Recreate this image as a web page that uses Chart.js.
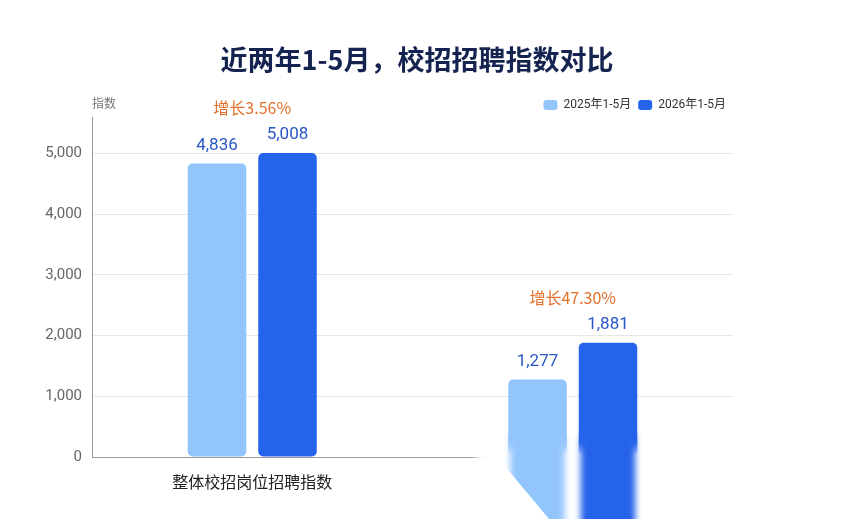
<!DOCTYPE html>
<html>
<head>
<meta charset="utf-8">
<script src="https://cdn.jsdelivr.net/npm/chart.js@4/dist/chart.umd.min.js"></script>
<style>
html,body{margin:0;padding:0;background:#fff;}
#wrap{width:862px;height:519px;position:relative;}
</style>
</head>
<body>
<div id="wrap"><canvas id="c"></canvas></div>
<script>
const categories = ['整体校招岗位招聘指数', ''];
const series2025 = [4836, 1277];
const series2026 = [5008, 1881];
const seriesNames = ['2025年1-5月', '2026年1-5月'];
const yTicks = [0, 1000, 2000, 3000, 4000, 5000];
const titleText = '近两年1-5月，校招招聘指数对比';
const yAxisTitle = '指数';

const CJK = '"Noto Sans CJK SC", "Noto Sans", sans-serif';
const NUM = 'Roboto, "Noto Sans CJK SC", sans-serif';

const labelPlugin = {
  id: 'labels',
  afterLayout(chart) {
    if (chart.legend) { chart.legend.top += 4; chart.legend.bottom += 4; }
  },
  afterDatasetsDraw(chart) {
    const ctx = chart.ctx;
    const m0 = chart.getDatasetMeta(0), m1 = chart.getDatasetMeta(1);
    ctx.save();
    ctx.textAlign = 'center';
    ctx.textBaseline = 'middle';
    [m0, m1].forEach((m, di) => {
      m.data.forEach((bar, i) => {
        const v = chart.data.datasets[di].data[i];
        ctx.font = '17px ' + NUM;
        ctx.fillStyle = '#2A56C6';
        ctx.fillText(v.toLocaleString('en-US'), bar.x, bar.y - 18);
      });
    });
    categories.forEach((c, i) => {
      const a = series2025[i], b = series2026[i];
      const g = ((b - a) / a * 100).toFixed(2);
      const top = Math.min(m0.data[i].y, m1.data[i].y);
      const cx = (m0.data[i].x + m1.data[i].x) / 2;
      ctx.font = '16px ' + CJK;
      ctx.fillStyle = '#E2702B';
      ctx.fillText('增长' + g + '%', cx, top - 45);
    });
    ctx.restore();
  },
  afterDraw(chart) {
    const ctx = chart.ctx;
    const ca = chart.chartArea;
    ctx.save();
    // title
    ctx.font = 'bold 27px ' + CJK;
    ctx.fillStyle = '#14234F';
    ctx.textAlign = 'center';
    ctx.textBaseline = 'middle';
    ctx.fillText(titleText, 417, 60);
    // y axis title
    ctx.font = '12px ' + CJK;
    ctx.fillStyle = '#777';
    ctx.textAlign = 'left';
    ctx.fillText(yAxisTitle, ca.left, ca.top - 14);
    // white fade over bottom-right
    const m0 = chart.getDatasetMeta(0), m1 = chart.getDatasetMeta(1);
    const b0 = m0.data[1], b1 = m1.data[1];
    const fadeLeft = b0.x - b0.width / 2 - 32;
    ctx.filter = 'blur(4px)';
    ctx.fillStyle = '#fff';
    ctx.fillRect(fadeLeft, ca.bottom - 8, 862 - fadeLeft + 20, 100);
    ctx.filter = 'blur(3px)';
    // smeared bar extensions
    ctx.fillStyle = chart.data.datasets[1].backgroundColor;
    ctx.fillRect(b1.x - b1.width / 2 + 2, ca.bottom - 22, b1.width - 4, 100);
    ctx.save();
    ctx.beginPath();
    const l = b0.x - b0.width / 2;
    ctx.moveTo(l - 4, ca.bottom - 24);
    ctx.lineTo(b0.x + b0.width / 2 + 10, ca.bottom - 24);
    ctx.lineTo(b0.x + b0.width / 2 + 10, 530);
    ctx.lineTo(l + 50, 530);
    ctx.lineTo(l - 6, ca.bottom + 6);
    ctx.closePath();
    ctx.clip();
    ctx.fillStyle = chart.data.datasets[0].backgroundColor;
    ctx.fillRect(l + 2, ca.bottom - 22, b0.width - 4, 100);
    ctx.restore();
    ctx.filter = 'none';
    ctx.restore();
  }
};

new Chart(document.getElementById('c'), {
  type: 'bar',
  data: {
    labels: categories,
    datasets: [
      { label: seriesNames[0], data: series2025, backgroundColor: '#93C5FD',
        borderRadius: 5, borderSkipped: false, barPercentage: 0.83, categoryPercentage: 0.44 },
      { label: seriesNames[1], data: series2026, backgroundColor: '#2563EB',
        borderRadius: 5, borderSkipped: false, barPercentage: 0.83, categoryPercentage: 0.44 }
    ]
  },
  options: {
    responsive: true,
    maintainAspectRatio: false,
    animation: false,
    devicePixelRatio: 1,
    layout: { padding: { top: 88, left: 0, right: 129, bottom: 0 } },
    plugins: {
      title: { display: false },
      tooltip: { enabled: false },
      legend: {
        position: 'top',
        align: 'end',
        labels: {
          boxWidth: 14, boxHeight: 10, useBorderRadius: true, borderRadius: 3,
          padding: 7, color: '#333', font: { family: NUM, size: 12 }
        }
      }
    },
    scales: {
      x: {
        grid: { display: false, drawTicks: false },
        border: { display: true, color: '#9a9a9a', width: 1 },
        ticks: { color: '#222', font: { family: CJK, size: 16 }, padding: 15 },
        afterFit(s) { s.height = 62; }
      },
      y: {
        min: 0, max: 5600,
        afterBuildTicks(s) { s.ticks = yTicks.map(v => ({ value: v })); },
        grid: { color: '#e6e6e6', drawTicks: false },
        border: { display: true, color: '#9a9a9a', width: 1 },
        ticks: { color: '#666', font: { family: NUM, size: 15 }, padding: 10,
          callback: v => v.toLocaleString('en-US') },
        afterFit(s) { s.width = 92; }
      }
    }
  },
  plugins: [labelPlugin]
});
</script>
</body>
</html>
